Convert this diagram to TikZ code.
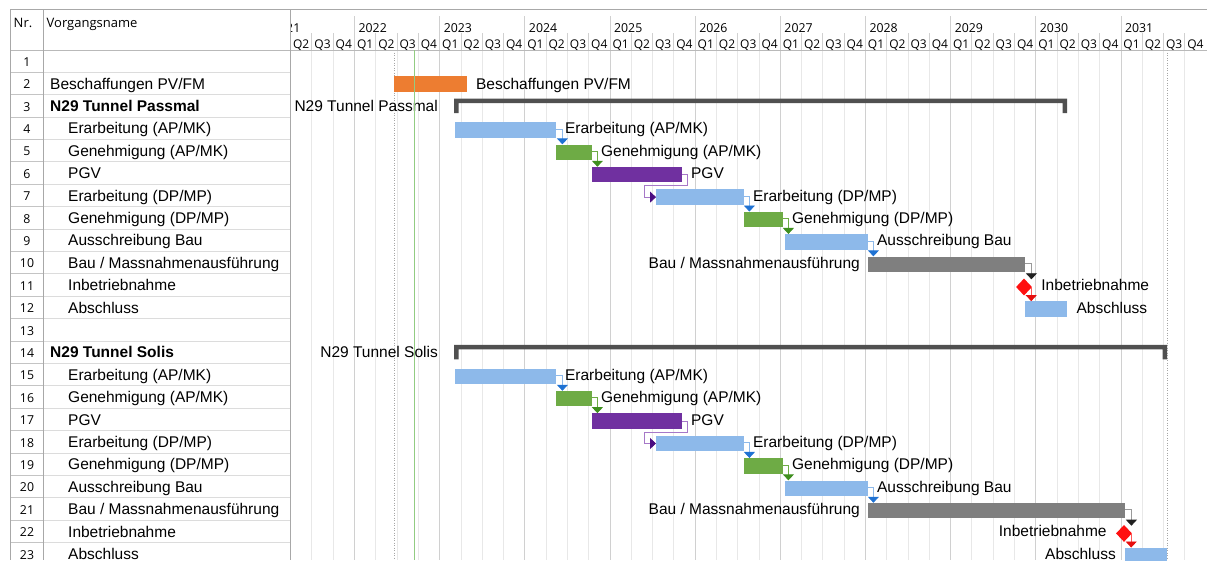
\documentclass[tikz,border=0pt]{standalone}
\usepackage{fontspec}
\setmainfont{Liberation Sans}
\newfontfamily\uifont{Open Sans}
\usetikzlibrary{arrows.meta,shapes.geometric,calc}
\definecolor{barblue}{HTML}{8DB9EA}
\definecolor{bargreen}{HTML}{6EAB45}
\definecolor{barpurple}{HTML}{7030A0}
\definecolor{barorange}{HTML}{ED7D31}
\definecolor{bargray}{HTML}{7F7F7F}
\definecolor{sumgray}{HTML}{505050}
\definecolor{tipblue}{HTML}{1F72D3}
\definecolor{tipgreen}{HTML}{3F8F1F}
\definecolor{tippurple}{HTML}{4A0C80}
\definecolor{tipblack}{HTML}{202020}
\definecolor{linkpurple}{HTML}{A678C8}
\definecolor{linkgray}{HTML}{9A9A9A}
\definecolor{msred}{HTML}{FF1010}
\definecolor{gridc}{HTML}{E8E8E8}
\definecolor{gridy}{HTML}{D0D0D0}
\definecolor{framec}{HTML}{A8A8A8}
\definecolor{rowline}{HTML}{DCDCDC}
\definecolor{nrline}{HTML}{C4C4C4}
\definecolor{todayc}{HTML}{92CC82}
\begin{document}
\begin{tikzpicture}[x=1pt,y=-1pt,
  declare function={ry(\i)=61.2+(\i-1)*22.4; qx(\q)=290.6+\q*21.29;},
  bar/.style={rectangle, inner sep=0pt, minimum height=15.5pt, anchor=west},
  msd/.style={diamond, fill=msred, inner sep=0pt, minimum width=16pt, minimum height=17pt},
  tname/.style={anchor=base west, inner sep=0pt, font=\fontsize{15.5}{18}\selectfont},
  blab/.style={inner sep=0pt, font=\fontsize{15.5}{18}\selectfont},
  num/.style={anchor=base, inner sep=0pt, font=\uifont\fontsize{12.3}{14}\selectfont},
  hdr/.style={anchor=base west, inner sep=0pt, font=\uifont\fontsize{13}{15}\selectfont},
  ylab/.style={anchor=base west, inner sep=0pt, font=\uifont\fontsize{12.3}{14}\selectfont},
  qlab/.style={anchor=base, inner sep=0pt, font=\uifont\fontsize{12}{14}\selectfont},
  lnk/.style={line width=0.8pt},
  lblue/.style={lnk, barblue, -{Triangle[length=6pt,width=11pt,color=tipblue]}},
  lgreen/.style={lnk, bargreen, -{Triangle[length=6pt,width=11pt,color=tipgreen]}},
  lpurple/.style={lnk, linkpurple, -{Triangle[length=6pt,width=11pt,color=tippurple]}},
  lblack/.style={lnk, linkgray, -{Triangle[length=6pt,width=11pt,color=tipblack]}},
  lred/.style={lnk, msred!70, -{Triangle[length=6pt,width=11pt,color=msred!90!black]}},
]
\useasboundingbox (0,0) rectangle (1207,560);
\clip (0,0) rectangle (1207,560);

% ---------- chart grid ----------
\foreach \k in {1,...,42} {
  \pgfmathtruncatemacro\m{mod(\k,4)}
  \ifnum\m=3
    \draw[gridy, line width=0.8pt] ({qx(\k)},16) -- ({qx(\k)},560);
  \else
    \draw[gridc, line width=0.8pt] ({qx(\k)},50) -- ({qx(\k)},560);
    \draw[gridy, line width=0.8pt] ({qx(\k)},33) -- ({qx(\k)},50);
  \fi
}
\draw[gray!70, line width=0.7pt, dash pattern=on 1pt off 1.5pt] (394,50) -- (394,560);
\draw[gray!70, line width=0.7pt, dash pattern=on 1pt off 1.5pt] (1167,50) -- (1167,560);

% ---------- table frame ----------
\foreach \i in {1,...,23} {
  \draw[nrline, line width=0.8pt] (10,{49.8+\i*22.4}) -- (43.5,{49.8+\i*22.4});
  \draw[rowline, line width=0.8pt] (43.5,{49.8+\i*22.4}) -- (290.5,{49.8+\i*22.4});
}
\draw[framec, line width=0.9pt] (10,9) -- (1207,9);
\draw[framec!80, line width=0.9pt] (10,50) -- (1207,50);
\draw[framec, line width=0.9pt] (10,9) -- (10,560);
\draw[framec, line width=0.9pt] (43.5,9) -- (43.5,560);
\draw[framec, line width=0.9pt] (290.5,9) -- (290.5,560);

% ---------- header ----------
\node[hdr] (hnr) at (13.5,27) {Nr.};
\node[hdr] (hname) at (46.5,27) {Vorgangsname};
\begin{scope}
  \clip (291,9) rectangle (360,50);
  \node[ylab, anchor=base east] (y2021) at (300.5,32) {2021};
\end{scope}
\foreach \y [count=\c from 0] in {2022,...,2031}
  \node[ylab] (y\y) at ({qx(4*\c+3)+4},32) {\y};
\foreach \k in {0,...,42} {
  \pgfmathtruncatemacro\qq{mod(\k+1,4)+1}
  \node[qlab] (q\k) at ({qx(\k)+10.65},48) {Q\qq};
}

% ---------- table texts ----------
\foreach \i in {1,...,23}
  \node[num] (n\i) at (27,{ry(\i)+5}) {\i};
\node[tname] (t2) at (50,{ry(2)+5.5}) {Beschaffungen PV/FM};
\node[tname, font=\fontsize{15.5}{18}\selectfont\bfseries] (t3) at (50,{ry(3)+5.5}) {N29 Tunnel Passmal};
\node[tname, font=\fontsize{15.5}{18}\selectfont\bfseries] (t14) at (50,{ry(14)+5.5}) {N29 Tunnel Solis};
\foreach \o in {0,11} {
  \pgfmathtruncatemacro\a{4+\o}\pgfmathtruncatemacro\b{5+\o}\pgfmathtruncatemacro\c{6+\o}
  \pgfmathtruncatemacro\d{7+\o}\pgfmathtruncatemacro\e{8+\o}\pgfmathtruncatemacro\f{9+\o}
  \pgfmathtruncatemacro\g{10+\o}\pgfmathtruncatemacro\h{11+\o}\pgfmathtruncatemacro\j{12+\o}
  \node[tname] (t\a) at (68,{ry(\a)+5.5}) {Erarbeitung (AP/MK)};
  \node[tname] (t\b) at (68,{ry(\b)+5.5}) {Genehmigung (AP/MK)};
  \node[tname] (t\c) at (68,{ry(\c)+5.5}) {PGV};
  \node[tname] (t\d) at (68,{ry(\d)+5.5}) {Erarbeitung (DP/MP)};
  \node[tname] (t\e) at (68,{ry(\e)+5.5}) {Genehmigung (DP/MP)};
  \node[tname] (t\f) at (68,{ry(\f)+5.5}) {Ausschreibung Bau};
  \node[tname] (t\g) at (68,{ry(\g)+5.5}) {Bau / Massnahmenausführung};
  \node[tname] (t\h) at (68,{ry(\h)+5.5}) {Inbetriebnahme};
  \node[tname] (t\j) at (68,{ry(\j)+5.5}) {Abschluss};
}

% ---------- bars ----------
\node[bar, fill=barorange, minimum width=73pt] (b2) at (394,{ry(2)+0.6}) {};
\node[blab, anchor=base west] (l2) at ($(b2.east)+(8.5,4.9)$) {Beschaffungen PV/FM};

% summary Passmal
\fill[sumgray] (454,{ry(3)-7.5}) rectangle (1067,{ry(3)-3})
               (454,{ry(3)-7.5}) rectangle (458.5,{ry(3)+7})
               (1062.5,{ry(3)-7.5}) rectangle (1067,{ry(3)+7});
\coordinate (s3) at (454,{ry(3)});
\node[blab, anchor=base east] (l3) at ($(s3)+(-16,5.5)$) {N29 Tunnel Passmal};
% summary Solis
\fill[sumgray] (454,{ry(14)-7.5}) rectangle (1167,{ry(14)-3})
               (454,{ry(14)-7.5}) rectangle (458.5,{ry(14)+7})
               (1162.5,{ry(14)-7.5}) rectangle (1167,{ry(14)+7});
\coordinate (s14) at (454,{ry(14)});
\node[blab, anchor=base east] (l14) at ($(s14)+(-16,5.5)$) {N29 Tunnel Solis};

\foreach \o/\bauend/\endx in {0/1025/1067,11/1125/1167} {
  \pgfmathtruncatemacro\a{4+\o}\pgfmathtruncatemacro\b{5+\o}\pgfmathtruncatemacro\c{6+\o}
  \pgfmathtruncatemacro\d{7+\o}\pgfmathtruncatemacro\e{8+\o}\pgfmathtruncatemacro\f{9+\o}
  \pgfmathtruncatemacro\g{10+\o}\pgfmathtruncatemacro\h{11+\o}\pgfmathtruncatemacro\j{12+\o}
  \pgfmathsetmacro\bauw{\bauend-868}
  \pgfmathsetmacro\absw{\endx-\bauend}
  \node[bar, fill=barblue, minimum width=101pt] (b\a) at (455,{ry(\a)+1.5}) {};
  \node[bar, fill=bargreen, minimum width=36pt] (b\b) at (556,{ry(\b)+1.5}) {};
  \node[bar, fill=barpurple, minimum width=90pt] (b\c) at (592,{ry(\c)+1.5}) {};
  \node[bar, fill=barblue, minimum width=88pt] (b\d) at (656,{ry(\d)+1.5}) {};
  \node[bar, fill=bargreen, minimum width=39pt] (b\e) at (744,{ry(\e)+1.5}) {};
  \node[bar, fill=barblue, minimum width=83pt] (b\f) at (785,{ry(\f)+1.5}) {};
  \node[bar, fill=bargray, minimum width=\bauw pt] (b\g) at (868,{ry(\g)+1.5}) {};
  \node[msd] (m\h) at ({\bauend-1},{ry(\h)+1.8}) {};
  \node[bar, fill=barblue, minimum width=\absw pt] (b\j) at (\bauend,{ry(\j)+1.5}) {};
  % labels
  \node[blab, anchor=base west] (l\a) at ($(b\a.east)+(8.5,4)$) {Erarbeitung (AP/MK)};
  \node[blab, anchor=base west] (l\b) at ($(b\b.east)+(8.5,4)$) {Genehmigung (AP/MK)};
  \node[blab, anchor=base west] (l\c) at ($(b\c.east)+(8.5,4)$) {PGV};
  \node[blab, anchor=base west] (l\d) at ($(b\d.east)+(8.5,4)$) {Erarbeitung (DP/MP)};
  \node[blab, anchor=base west] (l\e) at ($(b\e.east)+(8.5,4)$) {Genehmigung (DP/MP)};
  \node[blab, anchor=base west] (l\f) at ($(b\f.east)+(8.5,4)$) {Ausschreibung Bau};
  \node[blab, anchor=base east] (l\g) at ($(b\g.west)+(-8,4)$) {Bau / Massnahmenausführung};
  % connectors
  \coordinate (c\a) at ($(b\a.east)+(6,-1)$);
  \draw[lblue] ($(b\a.east)+(0,-1)$) -- (c\a) -- (c\a |- b\b.north);
  \coordinate (c\b) at ($(b\b.east)+(5,-1)$);
  \draw[lgreen] ($(b\b.east)+(0,-1)$) -- (c\b) -- (c\b |- b\c.north);
  \coordinate (c\c) at ($(b\c.east)+(5,0)$);
  \draw[lpurple] (b\c.east) -- (c\c) -- ++(0,11) -| ($(b\d.west)+(-12,0)$) -- (b\d.west);
  \coordinate (c\d) at ($(b\d.east)+(5,-1)$);
  \draw[lblue] ($(b\d.east)+(0,-1)$) -- (c\d) -- (c\d |- b\e.north);
  \coordinate (c\e) at ($(b\e.east)+(5,-1)$);
  \draw[lgreen] ($(b\e.east)+(0,-1)$) -- (c\e) -- (c\e |- b\f.north);
  \coordinate (c\f) at ($(b\f.east)+(5,-1)$);
  \draw[lblue] ($(b\f.east)+(0,-1)$) -- (c\f) -- (c\f |- b\g.north);
  \coordinate (c\g) at ($(b\g.east)+(6,-1)$);
  \coordinate (d\h) at (c\g |- m\h.north);
  \draw[lblack] ($(b\g.east)+(0,-1)$) -- (c\g) -- ([yshift=-1pt]d\h);
  \coordinate (e\h) at ([xshift=-1pt]m\h.east);
  \draw[lred] (e\h) -- (e\h |- b\j.north);
}
\node[blab, anchor=base west] (l11) at ($(m11.east)+(9,3.2)$) {Inbetriebnahme};
\node[blab, anchor=base west] (l12) at ($(b12.east)+(9,4)$) {Abschluss};
\node[blab, anchor=base east] (l22) at ($(m22.west)+(-9,3.2)$) {Inbetriebnahme};
\node[blab, anchor=base east] (l23) at ($(b23.west)+(-9,4)$) {Abschluss};

% status line
\draw[todayc, line width=1.2pt] (414.5,50) -- (414.5,560);
\end{tikzpicture}
\end{document}
